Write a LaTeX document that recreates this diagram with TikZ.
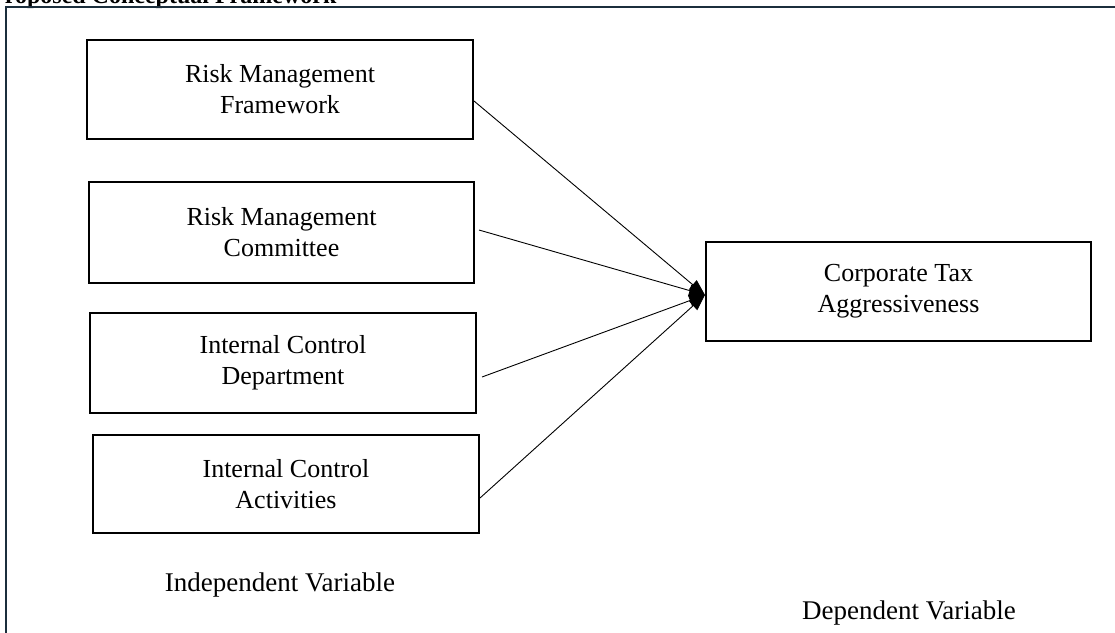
\documentclass[tikz,border=0pt]{standalone}
\usepackage{fontspec}
\setmainfont{Liberation Serif}
\usetikzlibrary{arrows.meta}
\definecolor{framecol}{HTML}{1B2E3C}
\tikzset{
  varbox/.style={draw=black, line width=2pt, minimum width=386pt, minimum height=99pt,
    align=center, font=\fontsize{26}{31}\selectfont, inner sep=0pt},
  link/.style={draw=black, line width=0.9pt, -{Triangle[length=16pt,width=12pt]}},
  caption/.style={font=\fontsize{27}{31}\selectfont, inner sep=0pt}
}
\begin{document}
\begin{tikzpicture}[x=1pt,y=-1pt]
\useasboundingbox (0,0) rectangle (1115,632);
\clip (0,0) rectangle (1115,632);
\node[anchor=base west, font=\fontsize{24}{26}\selectfont\bfseries, inner sep=0pt] (title) at (-10,3) {Proposed Conceptual Framework};
\draw[framecol, line width=2.5pt] (6,660) -- (6,7) -- (1140,7);
\node[varbox] (b1) at (280,89.5) {Risk Management\\Framework};
\node[varbox, minimum width=385pt, minimum height=101pt] (b2) at (281.5,232.5) {Risk Management\\Committee};
\node[varbox, minimum height=100pt] (b3) at (283,363) {Internal Control\\Department};
\node[varbox, minimum height=98pt] (b4) at (286,484) {Internal Control\\Activities};
\node[varbox, minimum width=385pt] (t) at (898.5,291.5) {Corporate Tax\\Aggressiveness};
\coordinate (tip) at ([yshift=-3.5pt]t.west);
\draw[link] ([yshift=-11.5pt]b1.east) -- (tip);
\draw[link] ([xshift=4pt,yshift=2.5pt]b2.east) -- (tip);
\draw[link] ([xshift=5pt,yshift=-14pt]b3.east) -- (tip);
\draw[link] ([yshift=-14pt]b4.east) -- (tip);
\node[caption] (iv) at (280,585) {Independent Variable};
\node[caption] (dv) at (909,613) {Dependent Variable};
\end{tikzpicture}
\end{document}
